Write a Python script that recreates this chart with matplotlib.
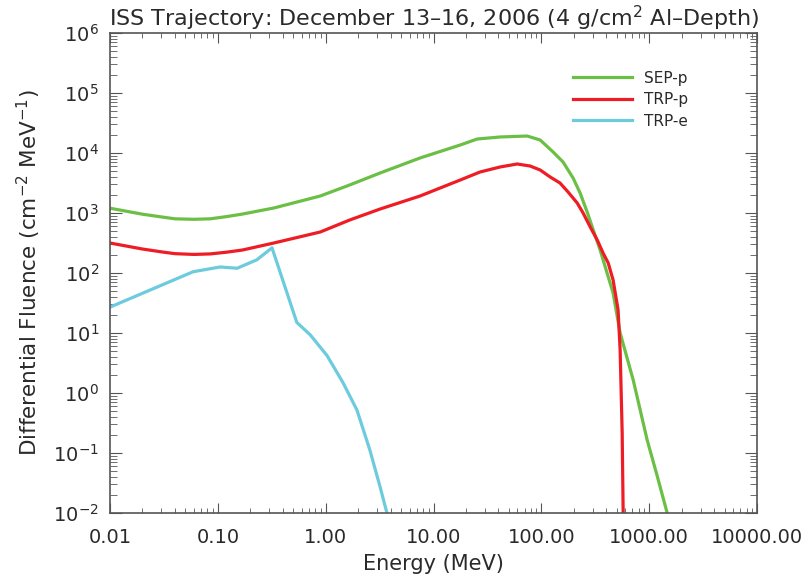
import numpy as np
import matplotlib
matplotlib.use('Agg')
import matplotlib.pyplot as plt

# Energy (MeV) and differential fluence (cm^-2 MeV^-1)
sep_p_energy = [0.01, 0.02, 0.03, 0.04, 0.06, 0.085, 0.12, 0.17, 0.33, 0.89,
                1.67, 3.2, 7.5, 17.7, 25.4, 41.5, 73.8, 97.5, 128.6, 159, 197,
                229, 266, 303, 351, 407, 463, 538, 711, 958, 1186, 1469]
sep_p_flux = [1202, 955, 860, 800, 785, 800, 870, 962, 1211, 1919,
              2931, 4645, 8260, 13590, 17100, 18490, 19190, 16480, 10400, 7080,
              3830, 2150, 1040, 521, 242, 100, 46.5, 10, 1.65, 0.165, 0.0417,
              0.01]

trp_p_energy = [0.01, 0.02, 0.03, 0.04, 0.06, 0.085, 0.12, 0.17, 0.33, 0.89,
                1.67, 3.2, 7.5, 17.7, 27, 41.5, 59.7, 78.7, 97.5, 120.8, 149,
                177, 215, 244, 284, 330, 374, 417, 463, 515, 538, 562, 574]
trp_p_flux = [316, 251, 225, 210, 204, 208, 222, 242, 316, 482,
              764, 1166, 1919, 3548, 4820, 5850, 6560, 6070, 5210, 3981, 3162,
              2239, 1469, 1000, 585, 355, 215, 147, 76.4, 24.2, 5.2, 0.215,
              0.01]

trp_e_energy = [0.01, 0.059, 0.105, 0.151, 0.23, 0.318, 0.54, 0.72, 1.03, 1.45,
                1.95, 2.57, 3.2, 3.7]
trp_e_flux = [27, 105, 126, 120, 166, 263, 15, 9.3, 4.2, 1.48, 0.52, 0.112,
              0.027, 0.01]

xticks = [0.01, 0.1, 1, 10, 100, 1000, 10000]
xtick_labels = ['0.01', '0.10', '1.00', '10.00', '100.00', '1000.00', '10000.00']
yticks = [1e-2, 1e-1, 1e0, 1e1, 1e2, 1e3, 1e4, 1e5, 1e6]
ytick_labels = ['$10^{-2}$', '$10^{-1}$', '$10^{0}$', '$10^{1}$', '$10^{2}$',
                '$10^{3}$', '$10^{4}$', '$10^{5}$', '$10^{6}$']

plt.rcParams['font.family'] = ['DejaVu Sans']
plt.rcParams['mathtext.default'] = 'regular'
text_col = '#2a2a2a'

fig = plt.figure(figsize=(8.08, 5.79), dpi=100)
ax = fig.add_axes([110/808, 1 - 513/579, 647/808, 480/579])

ax.plot(sep_p_energy, sep_p_flux, color='#6cbf45', lw=2.3, label='SEP-p')
ax.plot(trp_p_energy, trp_p_flux, color='#ee1c24', lw=2.3, label='TRP-p')
ax.plot(trp_e_energy, trp_e_flux, color='#6ccbdc', lw=2.3, label='TRP-e')

ax.set_xscale('log')
ax.set_yscale('log')
ax.set_xlim(0.01, 10000)
ax.set_ylim(1e-2, 1e6)
ax.set_xticks(xticks, labels=xtick_labels)
ax.set_yticks(yticks, labels=ytick_labels)
ax.yaxis.set_minor_locator(matplotlib.ticker.LogLocator(base=10, subs=np.arange(2, 10), numticks=20))
ax.xaxis.set_minor_locator(matplotlib.ticker.LogLocator(base=10, subs=np.arange(2, 10), numticks=20))
ax.xaxis.set_minor_formatter(matplotlib.ticker.NullFormatter())
ax.yaxis.set_minor_formatter(matplotlib.ticker.NullFormatter())

for sp in ax.spines.values():
    sp.set_color('#555555')
    sp.set_linewidth(1.2)
ax.tick_params(which='both', direction='in', top=True, right=True,
               colors='#555555', labelcolor=text_col, labelsize=14)
ax.tick_params(axis='x', which='major', length=7.5, pad=11)
ax.tick_params(axis='x', which='minor', length=3.8)
ax.tick_params(axis='y', which='major', length=8.5, pad=8)
ax.tick_params(axis='y', which='minor', length=5)

ax.set_title('ISS Trajectory: December 13\u201316, 2006 (4 g/cm$^{2}$ Al\u2013Depth)',
             fontsize=16, color=text_col, pad=5)
ax.set_xlabel('Energy (MeV)', fontsize=15, color=text_col, labelpad=5)
ax.set_ylabel('Differential Fluence (cm$^{-2}$ MeV$^{-1}$)', fontsize=15.5,
              color=text_col, labelpad=7)

leg = ax.legend(loc='upper left', bbox_to_anchor=(0.695, 0.95), frameon=False,
                fontsize=11, handlelength=3.85, handletextpad=0.8, labelspacing=0.42)
for t in leg.get_texts():
    t.set_color(text_col)

fig.savefig('out.png', dpi=100)
